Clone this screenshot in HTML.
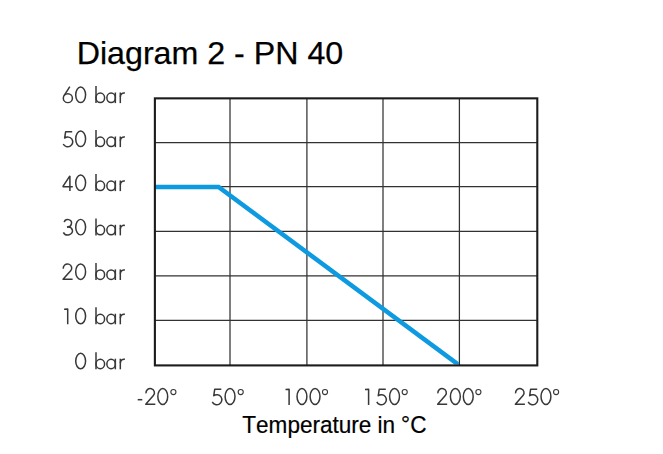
<!DOCTYPE html>
<html>
<head>
<meta charset="utf-8">
<style>
html,body{margin:0;padding:0;background:#fff;}
body{width:663px;height:454px;overflow:hidden;position:relative;font-family:"Liberation Sans",sans-serif;}
svg{position:absolute;left:0;top:0;display:block;}
text{font-family:"Liberation Sans",sans-serif;font-kerning:none;}
.t{font-size:32.2px;fill:#000;stroke:#000;stroke-width:0.25px;}
.ax{font-size:22.55px;fill:#000;stroke:#000;stroke-width:0.2px;}
.lab{fill:none;stroke:#383838;stroke-width:1.5;stroke-linecap:butt;stroke-linejoin:round;}
</style>
</head>
<body>
<svg width="663" height="454" viewBox="0 0 663 454">
<rect width="663" height="454" fill="#fff"/>
<text class="t" x="76.7" y="64.4">Diagram 2 - PN 40</text>
<filter id="bl" x="-5%" y="-5%" width="110%" height="110%"><feGaussianBlur stdDeviation="0.4"/></filter>
<g filter="url(#bl)">
<g stroke="#333" stroke-width="1.25" fill="none">
<line x1="230" y1="98.35" x2="230" y2="365.4"/>
<line x1="306.9" y1="98.35" x2="306.9" y2="365.4"/>
<line x1="383" y1="98.35" x2="383" y2="365.4"/>
<line x1="459.4" y1="98.35" x2="459.4" y2="365.4"/>
<line x1="154.9" y1="142.6" x2="537.3" y2="142.6"/>
<line x1="154.9" y1="186.5" x2="537.3" y2="186.5"/>
<line x1="154.9" y1="231.4" x2="537.3" y2="231.4"/>
<line x1="154.9" y1="275.8" x2="537.3" y2="275.8"/>
<line x1="154.9" y1="320.3" x2="537.3" y2="320.3"/>
</g>
<clipPath id="c"><rect x="155.4" y="99" width="303.5" height="265.5"/></clipPath>
<polyline clip-path="url(#c)" points="150,187 218.6,187 459.6,365.5 463,368" fill="none" stroke="#0a9ae0" stroke-width="4.6" stroke-linejoin="miter"/>
<rect x="154.9" y="98.35" width="382.4" height="267.05" fill="none" stroke="#1c1c1c" stroke-width="2.1"/>
<g class="lab">
<g transform="translate(61.9,103.1) scale(1,0.975)"><circle cx="5.95" cy="-5.05" r="4.55"/><path d="M7.9,-16.9 L2.07,-7.43"/></g>
<g transform="translate(74.3,103.1) scale(1,0.975)"><ellipse cx="6.35" cy="-8.5" rx="4.93" ry="7.95"/></g>
<g transform="translate(96,103.1)"><path d="M0,-17 V0"/><ellipse cx="4.3" cy="-5.3" rx="4.3" ry="4.75"/></g>
<g transform="translate(111.1,103.1)"><ellipse cx="0" cy="-5.3" rx="4.25" ry="4.75"/><path d="M4.25,-10.6 V0"/></g>
<g transform="translate(120.3,103.1)"><path d="M0,-10.6 V0"/><path d="M0,-6.2 C0.3,-9.2 2.2,-10.5 4.6,-10.0"/></g>
<g transform="translate(61.9,147.1) scale(1,0.975)"><path d="M10.3,-15.7 L3.7,-15.7 L2.75,-9.25 A5,5 0 1 1 1.32,-3.14"/></g>
<g transform="translate(74.3,147.1) scale(1,0.975)"><ellipse cx="6.35" cy="-8.5" rx="4.93" ry="7.95"/></g>
<g transform="translate(96,147.1)"><path d="M0,-17 V0"/><ellipse cx="4.3" cy="-5.3" rx="4.3" ry="4.75"/></g>
<g transform="translate(111.1,147.1)"><ellipse cx="0" cy="-5.3" rx="4.25" ry="4.75"/><path d="M4.25,-10.6 V0"/></g>
<g transform="translate(120.3,147.1)"><path d="M0,-10.6 V0"/><path d="M0,-6.2 C0.3,-9.2 2.2,-10.5 4.6,-10.0"/></g>
<g transform="translate(61.9,191.1) scale(1,0.975)"><path d="M8.0,0 L8.0,-15.6 L0.9,-4.5 L10.9,-4.5" stroke-linejoin="bevel"/></g>
<g transform="translate(74.3,191.1) scale(1,0.975)"><ellipse cx="6.35" cy="-8.5" rx="4.93" ry="7.95"/></g>
<g transform="translate(96,191.1)"><path d="M0,-17 V0"/><ellipse cx="4.3" cy="-5.3" rx="4.3" ry="4.75"/></g>
<g transform="translate(111.1,191.1)"><ellipse cx="0" cy="-5.3" rx="4.25" ry="4.75"/><path d="M4.25,-10.6 V0"/></g>
<g transform="translate(120.3,191.1)"><path d="M0,-10.6 V0"/><path d="M0,-6.2 C0.3,-9.2 2.2,-10.5 4.6,-10.0"/></g>
<g transform="translate(61.9,235.4) scale(1,0.975)"><path d="M2.33,-13.56 A3.7,3.7 0 1 1 5.26,-8.96"/><path d="M5.08,-8.44 A4.7,4 0 1 1 1.48,-3.13"/></g>
<g transform="translate(74.3,235.4) scale(1,0.975)"><ellipse cx="6.35" cy="-8.5" rx="4.93" ry="7.95"/></g>
<g transform="translate(96,235.4)"><path d="M0,-17 V0"/><ellipse cx="4.3" cy="-5.3" rx="4.3" ry="4.75"/></g>
<g transform="translate(111.1,235.4)"><ellipse cx="0" cy="-5.3" rx="4.25" ry="4.75"/><path d="M4.25,-10.6 V0"/></g>
<g transform="translate(120.3,235.4)"><path d="M0,-10.6 V0"/><path d="M0,-6.2 C0.3,-9.2 2.2,-10.5 4.6,-10.0"/></g>
<g transform="translate(61.9,280) scale(1,0.975)"><path d="M1.4,-11.54 A4.25,4.25 0 1 1 8.79,-9.39 L1.15,-0.72 L10.7,-0.72"/></g>
<g transform="translate(74.3,280) scale(1,0.975)"><ellipse cx="6.35" cy="-8.5" rx="4.93" ry="7.95"/></g>
<g transform="translate(96,280)"><path d="M0,-17 V0"/><ellipse cx="4.3" cy="-5.3" rx="4.3" ry="4.75"/></g>
<g transform="translate(111.1,280)"><ellipse cx="0" cy="-5.3" rx="4.25" ry="4.75"/><path d="M4.25,-10.6 V0"/></g>
<g transform="translate(120.3,280)"><path d="M0,-10.6 V0"/><path d="M0,-6.2 C0.3,-9.2 2.2,-10.5 4.6,-10.0"/></g>
<g transform="translate(61.9,324.3) scale(1,0.975)"><path d="M2.2,-15.5 L5.8,-15.7 L5.8,0"/></g>
<g transform="translate(74.3,324.3) scale(1,0.975)"><ellipse cx="6.35" cy="-8.5" rx="4.93" ry="7.95"/></g>
<g transform="translate(96,324.3)"><path d="M0,-17 V0"/><ellipse cx="4.3" cy="-5.3" rx="4.3" ry="4.75"/></g>
<g transform="translate(111.1,324.3)"><ellipse cx="0" cy="-5.3" rx="4.25" ry="4.75"/><path d="M4.25,-10.6 V0"/></g>
<g transform="translate(120.3,324.3)"><path d="M0,-10.6 V0"/><path d="M0,-6.2 C0.3,-9.2 2.2,-10.5 4.6,-10.0"/></g>
<g transform="translate(74.3,369.3) scale(1,0.975)"><ellipse cx="6.35" cy="-8.5" rx="4.93" ry="7.95"/></g>
<g transform="translate(96,369.3)"><path d="M0,-17 V0"/><ellipse cx="4.3" cy="-5.3" rx="4.3" ry="4.75"/></g>
<g transform="translate(111.1,369.3)"><ellipse cx="0" cy="-5.3" rx="4.25" ry="4.75"/><path d="M4.25,-10.6 V0"/></g>
<g transform="translate(120.3,369.3)"><path d="M0,-10.6 V0"/><path d="M0,-6.2 C0.3,-9.2 2.2,-10.5 4.6,-10.0"/></g>
<g transform="translate(137.7,399.7)"><path d="M0,0 H4.6"/></g>
<g transform="translate(144.6,405)"><path d="M1.4,-11.54 A4.25,4.25 0 1 1 8.79,-9.39 L1.15,-0.72 L10.7,-0.72"/></g>
<g transform="translate(156.4,405)"><ellipse cx="6.35" cy="-8.5" rx="4.93" ry="7.95"/></g>
<g transform="translate(173.4,392.1)"><circle cx="0" cy="0" r="2.55" stroke-width="1.1"/></g>
<g transform="translate(211,405)"><path d="M10.3,-15.7 L3.7,-15.7 L2.75,-9.25 A5,5 0 1 1 1.32,-3.14"/></g>
<g transform="translate(223.7,405)"><ellipse cx="6.35" cy="-8.5" rx="4.93" ry="7.95"/></g>
<g transform="translate(240.7,392.1)"><circle cx="0" cy="0" r="2.55" stroke-width="1.1"/></g>
<g transform="translate(283.3,405)"><path d="M2.2,-15.5 L5.8,-15.7 L5.8,0"/></g>
<g transform="translate(295.6,405)"><ellipse cx="6.35" cy="-8.5" rx="4.93" ry="7.95"/></g>
<g transform="translate(308.7,405)"><ellipse cx="6.35" cy="-8.5" rx="4.93" ry="7.95"/></g>
<g transform="translate(325,392.1)"><circle cx="0" cy="0" r="2.55" stroke-width="1.1"/></g>
<g transform="translate(362.8,405)"><path d="M2.2,-15.5 L5.8,-15.7 L5.8,0"/></g>
<g transform="translate(375.5,405)"><path d="M10.3,-15.7 L3.7,-15.7 L2.75,-9.25 A5,5 0 1 1 1.32,-3.14"/></g>
<g transform="translate(388.2,405)"><ellipse cx="6.35" cy="-8.5" rx="4.93" ry="7.95"/></g>
<g transform="translate(404.7,392.1)"><circle cx="0" cy="0" r="2.55" stroke-width="1.1"/></g>
<g transform="translate(436.5,405)"><path d="M1.4,-11.54 A4.25,4.25 0 1 1 8.79,-9.39 L1.15,-0.72 L10.7,-0.72"/></g>
<g transform="translate(449,405)"><ellipse cx="6.35" cy="-8.5" rx="4.93" ry="7.95"/></g>
<g transform="translate(461.9,405)"><ellipse cx="6.35" cy="-8.5" rx="4.93" ry="7.95"/></g>
<g transform="translate(478.4,392.1)"><circle cx="0" cy="0" r="2.55" stroke-width="1.1"/></g>
<g transform="translate(514.2,405)"><path d="M1.4,-11.54 A4.25,4.25 0 1 1 8.79,-9.39 L1.15,-0.72 L10.7,-0.72"/></g>
<g transform="translate(526.9,405)"><path d="M10.3,-15.7 L3.7,-15.7 L2.75,-9.25 A5,5 0 1 1 1.32,-3.14"/></g>
<g transform="translate(539.6,405)"><ellipse cx="6.35" cy="-8.5" rx="4.93" ry="7.95"/></g>
<g transform="translate(556.1,392.1)"><circle cx="0" cy="0" r="2.55" stroke-width="1.1"/></g>
</g>
</g>
<text class="ax" transform="translate(242.3,432.85) scale(1,1.07)">Temperature in <tspan dy="-1.1" dx="-0.3">°</tspan><tspan dy="1.1">C</tspan></text>
</svg>
</body>
</html>
